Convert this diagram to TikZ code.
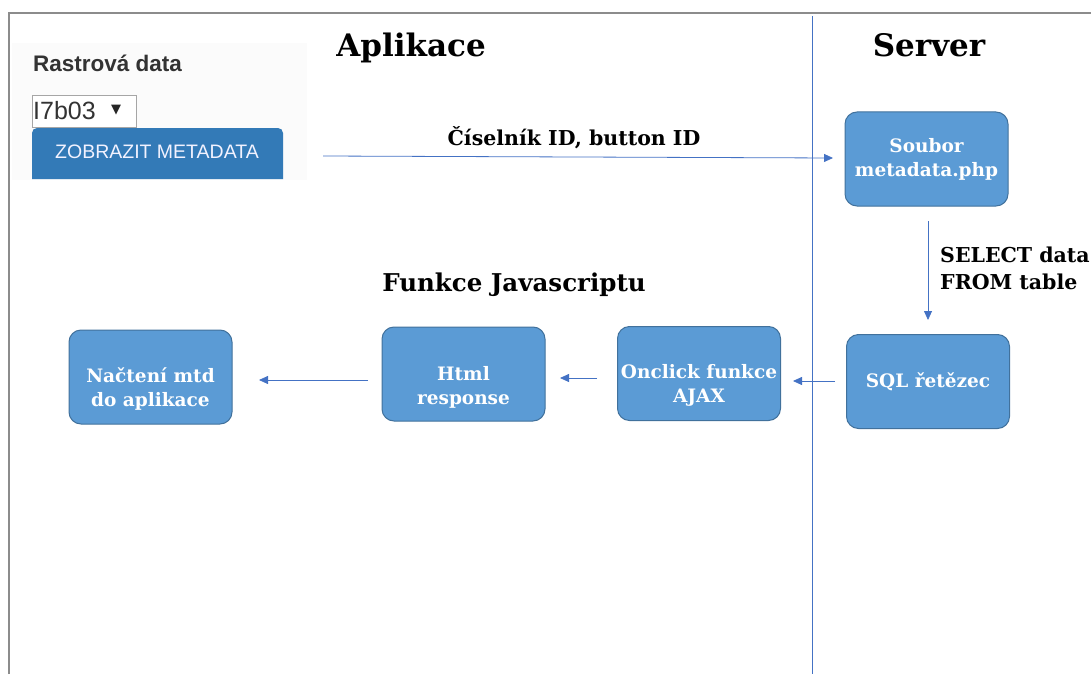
\documentclass[tikz,border=0pt]{standalone}
\usepackage{fontspec}
\setmainfont{DejaVu Serif}
\newfontfamily\uifont{Liberation Sans}
\newfontfamily\symfont{DejaVu Sans}
\usetikzlibrary{arrows.meta}
\definecolor{boxfill}{HTML}{5B9BD5}
\definecolor{boxline}{HTML}{41719C}
\definecolor{arrowc}{HTML}{4472C4}
\definecolor{btnblue}{HTML}{337AB7}
\definecolor{uitext}{HTML}{333333}
\tikzset{
  flowbox/.style={draw=boxline, line width=1pt, fill=boxfill, rounded corners=12pt,
    minimum width=163pt, minimum height=94pt, align=center, text=white,
    font=\bfseries\fontsize{18.5}{24}\selectfont, inner sep=1pt},
  boxtext/.style={align=center, text=white, font=\bfseries\fontsize{18.5}{24}\selectfont, inner sep=1pt},
  flow/.style={draw=arrowc, line width=0.8pt, -{Triangle[length=9pt,width=8pt]}},
  lbl/.style={font=\bfseries\fontsize{20.5}{27}\selectfont, text=black, inner sep=0pt},
  title/.style={font=\bfseries\fontsize{31}{36}\selectfont, text=black, inner sep=0pt}
}
\begin{document}
\begin{tikzpicture}[x=1pt,y=-1pt]
\useasboundingbox (0,0) rectangle (1091,674);
% frame
\draw[gray!90, line width=1.2pt] (9,674) -- (9,13) -- (1091,13);
\draw[arrowc, line width=0.8pt] (812,16) -- (812,674);
% UI mockup
\fill[white!97!gray] (12,43) rectangle (307,180);
\node[anchor=base west, font=\uifont\bfseries\fontsize{22.5}{24}\selectfont, text=uitext, inner sep=0pt] (rastr) at (33,72) {Rastrová data};
\node[draw=gray!70, fill=white, line width=0.8pt, minimum width=104pt, minimum height=32pt, anchor=north west, inner sep=0pt] (sel) at (32,95) {};
\node[anchor=base west, font=\uifont\fontsize{25}{27}\selectfont, text=uitext, inner sep=0pt] (selt) at (33,120) {I7b03};
\node[font=\symfont\fontsize{13}{14}\selectfont, text=black!85, inner sep=0pt] (seltri) at (116,110) {▼};
\fill[btnblue] (32,179) -- (32,133) arc[start angle=180,end angle=90,radius=5pt] -- (278,128) arc[start angle=90,end angle=0,radius=5pt] -- (283,179) -- cycle;
\node[font=\uifont\fontsize{19.5}{22}\selectfont, text=white!95!blue] (btn) at (157,152) {ZOBRAZIT METADATA};
\coordinate (btnout) at (323,156);
% titles
\node[title, anchor=base] (tapp) at (411,57) {Aplikace};
\node[title, anchor=base] (tsrv) at (929,57) {Server};
\node[lbl, font=\bfseries\fontsize{24.5}{30}\selectfont] (tjs) at (514,285) {Funkce Javascriptu};
% boxes
\node[flowbox] (soubor) at (926.5,159) {Soubor\\metadata.php};
\node[flowbox] (sql) at (928,381.5) {SQL řetězec};
\node[flowbox] (ajax) at (699,373.5) {};
\node[boxtext] (ajaxt) at ([yshift=-12pt]ajax.center) {Onclick funkce\\AJAX};
\node[flowbox] (html) at (463.5,374) {};
\node[boxtext] (htmlt) at ([yshift=-13pt]html.center) {Html\\response};
\node[flowbox] (nacteni) at (150.5,377) {};
\node[boxtext] (nacttext) at ([yshift=-12pt]nacteni.center) {Načtení mtd\\do aplikace};
% arrows
\coordinate (a1e) at (833,158);
\draw[flow] (btnout) -- (a1e);
\node[lbl] (l1) at (574,138) {Číselník ID, button ID};
\coordinate (a2s) at (928,221);
\coordinate (a2e) at (928,320);
\draw[flow] (a2s) -- (a2e);
\node[lbl, anchor=north west, align=left] (l2) at (940,247) {SELECT data\\FROM table};
\coordinate (a3s) at (835,381);
\coordinate (a3e) at (793,381);
\draw[flow] (a3s) -- (a3e);
\coordinate (a4s) at (597,378);
\coordinate (a4e) at (560,378);
\draw[flow] (a4s) -- (a4e);
\coordinate (a5s) at (368,380);
\coordinate (a5e) at (259,380);
\draw[flow] (a5s) -- (a5e);
\end{tikzpicture}
\end{document}
